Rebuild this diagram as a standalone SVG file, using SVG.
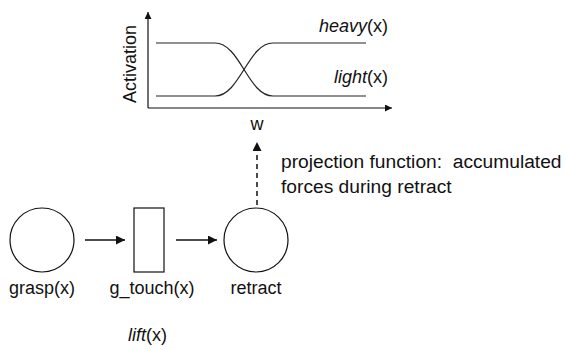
<svg xmlns="http://www.w3.org/2000/svg" width="566" height="350" viewBox="0 0 566 350">
<defs>
<style>
text{font-family:"Liberation Sans",Arial,sans-serif;font-size:18px;fill:#111}
.big{font-size:19.2px}
.n{fill:none;stroke:#111;stroke-width:1.2}
.c{fill:none;stroke:#111;stroke-width:1.5}
.curve{fill:none;stroke:#222;stroke-width:1.2}
</style>
<marker id="ah" viewBox="0 0 10 10" refX="10" refY="5" markerWidth="7" markerHeight="7" markerUnits="userSpaceOnUse" orient="auto"><path d="M0,0 L10,5 L0,10 Z" fill="#111"/></marker>
<marker id="ah2" viewBox="0 0 10 10" refX="10" refY="5" markerWidth="9" markerHeight="9" markerUnits="userSpaceOnUse" orient="auto"><path d="M0,0 L10,5 L0,10 Z" fill="#111"/></marker>
</defs>
<g id="chart">
<line class="n" x1="148" y1="108" x2="148" y2="12" marker-end="url(#ah)"/>
<line class="n" x1="148" y1="108" x2="392" y2="108" marker-end="url(#ah)"/>
<path class="curve" d="M156,43 L215,43 C240,43 248,96 273,96 L366,96"/>
<path class="curve" d="M156,96 L215,96 C240,96 248,43 273,43 L366,43"/>
<text x="388" y="32" text-anchor="end"><tspan font-style="italic">heavy</tspan>(x)</text>
<text x="388" y="83" text-anchor="end"><tspan font-style="italic">light</tspan>(x)</text>
<text transform="translate(136,64) rotate(-90)" text-anchor="middle" font-size="21">Activation</text>
<text x="257" y="130" text-anchor="middle">w</text>
</g>
<g id="grasp">
<circle class="n" cx="42" cy="240" r="32"/>
<text x="42" y="294" text-anchor="middle">grasp(x)</text>
</g>
<g id="g_touch">
<rect class="n" x="134" y="208" width="30" height="64"/>
<text x="152" y="294" text-anchor="middle">g_touch(x)</text>
</g>
<g id="retract">
<circle class="n" cx="256" cy="240" r="32"/>
<text x="256" y="294" text-anchor="middle">retract</text>
</g>
<g id="connectors">
<line class="c" x1="85" y1="240" x2="125" y2="240" marker-end="url(#ah2)"/>
<line class="c" x1="176" y1="240" x2="217" y2="240" marker-end="url(#ah2)"/>
<line class="c" x1="257" y1="205" x2="257" y2="142" stroke-width="2.5" stroke-dasharray="5,4" marker-end="url(#ah2)"/>
</g>
<g id="labels">
<text class="big" x="281" y="168" xml:space="preserve">projection function:  accumulated</text>
<text class="big" x="281" y="193">forces during retract</text>
<text x="128" y="341"><tspan font-style="italic">lift</tspan>(x)</text>
</g>
</svg>
